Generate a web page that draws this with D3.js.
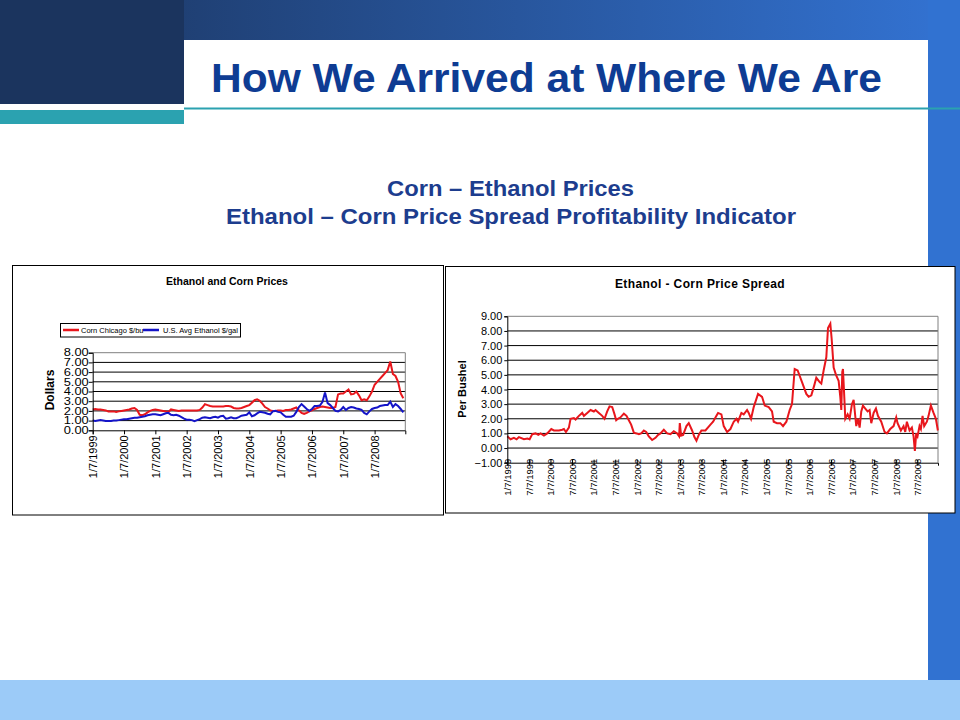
<!DOCTYPE html>
<html lang="en">
<head>
<meta charset="UTF-8">
<title>How We Arrived at Where We Are</title>
<script src="https://cdn.jsdelivr.net/npm/d3@7"></script>
<style>
    body { margin: 0; background: #fff; }
    svg { display: block; font-family: Arial, "Liberation Sans", sans-serif; }
</style>
</head>
<body>
<script>
// Monthly values, Jan 1999 .. Dec 2008
const cornPrices = [
    2.15, 2.2, 2.15, 2.15, 2.1, 2.05, 1.95, 1.95, 1.95, 1.9, 1.95, 2.0,
    2.05, 2.1, 2.15, 2.25, 2.3, 2.1, 1.6, 1.55, 1.65, 1.85, 2.0, 2.1,
    2.15, 2.1, 2.05, 2.0, 1.95, 1.9, 2.15, 2.1, 2.05, 2.0, 2.05, 2.05,
    2.05, 2.05, 2.05, 2.05, 2.05, 2.1, 2.35, 2.7, 2.6, 2.5, 2.45, 2.45,
    2.45, 2.45, 2.45, 2.5, 2.5, 2.45, 2.3, 2.25, 2.25, 2.3, 2.4, 2.5,
    2.6, 2.85, 3.1, 3.2, 3.05, 2.75, 2.4, 2.25, 2.05, 2.0, 2.0, 2.05,
    2.05, 2.0, 2.1, 2.1, 2.15, 2.25, 2.35, 2.05, 1.8, 1.7, 1.8, 1.95,
    2.05, 2.2, 2.3, 2.4, 2.45, 2.4, 2.35, 2.3, 2.3, 2.4, 3.7, 3.8,
    3.8, 4.0, 4.2, 3.7, 3.75, 4.0, 3.6, 3.1, 3.2, 3.1, 3.5, 4.0,
    4.7, 5.0, 5.3, 5.6, 5.9, 6.2, 7.1, 5.8, 5.6, 5.0, 3.8, 3.3
];
const ethanolPrices = [
    1.0, 0.95, 1.0, 1.05, 1.0, 0.95, 0.95, 0.95, 1.0, 1.0, 1.05, 1.1,
    1.15, 1.15, 1.2, 1.25, 1.3, 1.3, 1.35, 1.4, 1.45, 1.55, 1.6, 1.65,
    1.65, 1.6, 1.55, 1.65, 1.75, 1.8, 1.6, 1.55, 1.6, 1.5, 1.35, 1.2,
    1.1, 1.1, 1.05, 0.95, 1.05, 1.15, 1.3, 1.35, 1.3, 1.25, 1.35, 1.4,
    1.3, 1.45, 1.5, 1.2, 1.25, 1.35, 1.25, 1.25, 1.35, 1.5, 1.55, 1.6,
    1.85, 1.45, 1.55, 1.75, 1.9, 1.85, 1.8, 1.7, 1.65, 1.95, 2.0, 1.9,
    1.85, 1.6, 1.4, 1.4, 1.4, 1.5, 1.9, 2.4, 2.7, 2.45, 2.2, 2.0,
    2.2, 2.5, 2.5, 2.55, 2.9, 3.9, 2.8, 2.6, 2.3, 2.0, 1.95, 2.1,
    2.4, 2.1, 2.3, 2.4, 2.35, 2.25, 2.2, 2.1, 1.8, 1.65, 1.95, 2.2,
    2.3, 2.35, 2.5, 2.55, 2.6, 2.6, 2.95, 2.4, 2.7, 2.5, 2.2, 1.85
];

// Spread series: years since 1/7/1999 and $ per bushel
const spreadYears = [
    0, 0.077, 0.154, 0.216, 0.27, 0.386, 0.463, 0.517, 0.579, 0.656, 0.718, 0.772, 0.849, 0.926,
    1.019, 1.08, 1.196, 1.273, 1.312, 1.358, 1.427, 1.466, 1.543, 1.582, 1.659, 1.736, 1.775, 1.852, 1.929,
    2.006, 2.045, 2.122, 2.199, 2.253, 2.315, 2.369, 2.431, 2.485, 2.523, 2.562, 2.623, 2.701, 2.762, 2.816, 2.870, 2.932,
    2.994, 3.048, 3.102, 3.164, 3.218, 3.279, 3.356, 3.434, 3.495, 3.549, 3.627, 3.704, 3.781, 3.858, 3.935, 3.981,
    3.997, 4.028, 4.074, 4.151, 4.205, 4.282, 4.336, 4.383, 4.437, 4.498, 4.591, 4.707, 4.769, 4.846, 4.884, 4.961,
    5.015, 5.093, 5.170, 5.247, 5.309, 5.347, 5.424, 5.478, 5.556, 5.594, 5.648, 5.710, 5.810, 5.903, 5.965,
    6.057, 6.134, 6.173, 6.250, 6.327, 6.389, 6.466, 6.543, 6.597, 6.659, 6.728, 6.829, 6.929, 6.983,
    7.045, 7.114, 7.160, 7.238, 7.276, 7.330, 7.392, 7.431, 7.485, 7.515, 7.562, 7.616, 7.677, 7.716, 7.739,
    7.762, 7.778, 7.832, 7.886, 7.932, 7.986, 8.025, 8.086, 8.125, 8.164, 8.202, 8.241, 8.295, 8.349, 8.395,
    8.434, 8.488, 8.542, 8.588, 8.665, 8.742, 8.796, 8.873, 8.951, 9.012, 9.043, 9.120, 9.182, 9.221, 9.259,
    9.321, 9.375, 9.414, 9.444, 9.475, 9.506, 9.552, 9.583, 9.622, 9.660, 9.722, 9.761, 9.815, 9.877, 9.931, 9.977
];
const spreadValues = [
    0.8, 0.6, 0.7, 0.6, 0.75, 0.6, 0.65, 0.6, 0.95, 1.0, 0.9, 1.0, 0.85, 1.0,
    1.3, 1.2, 1.2, 1.25, 1.3, 1.1, 1.4, 2.0, 2.05, 1.95, 2.2, 2.4, 2.2, 2.4, 2.6,
    2.5, 2.6, 2.4, 2.2, 2.0, 2.5, 2.85, 2.8, 2.3, 1.9, 2.0, 2.1, 2.35, 2.2, 1.9, 1.6, 1.05,
    1.0, 0.95, 1.0, 1.2, 1.1, 0.8, 0.55, 0.7, 0.9, 1.0, 1.25, 1.0, 0.95, 1.15, 1.0, 0.8,
    1.7, 0.85, 0.9, 1.5, 1.7, 1.2, 0.75, 0.5, 0.9, 1.2, 1.2, 1.6, 1.8, 2.2, 2.4, 2.3,
    1.5, 1.1, 1.3, 1.8, 2.0, 1.8, 2.4, 2.3, 2.6, 2.4, 2.0, 2.8, 3.7, 3.5, 2.9,
    2.8, 2.5, 1.8, 1.7, 1.7, 1.5, 1.8, 2.6, 3.0, 5.4, 5.3, 4.5, 3.7, 3.5,
    3.6, 4.3, 4.8, 4.5, 4.4, 5.3, 6.2, 8.2, 8.5, 7.5, 5.5, 5.0, 4.6, 3.5, 2.6,
    5.2, 5.4, 2.0, 2.3, 2.0, 3.0, 3.3, 1.5, 2.0, 1.4, 2.5, 2.9, 2.7, 2.5, 2.6,
    1.7, 2.4, 2.7, 2.2, 1.8, 1.1, 1.0, 1.3, 1.5, 2.1, 1.7, 1.2, 1.5, 1.1, 1.8,
    1.2, 1.4, 0.8, -0.2, 1.0, 0.8, 1.5, 1.3, 2.2, 1.5, 1.8, 2.2, 2.9, 2.4, 2.0, 1.2
];

const leftTickLabels = ["1/7/1999", "1/7/2000", "1/7/2001", "1/7/2002", "1/7/2003",
    "1/7/2004", "1/7/2005", "1/7/2006", "1/7/2007", "1/7/2008"];
const rightTickLabels = ["1/7/1999", "7/7/1999", "1/7/2000", "7/7/2000", "1/7/2001", "7/7/2001",
    "1/7/2002", "7/7/2002", "1/7/2003", "7/7/2003", "1/7/2004", "7/7/2004", "1/7/2005", "7/7/2005",
    "1/7/2006", "7/7/2006", "1/7/2007", "7/7/2007", "1/7/2008", "7/7/2008"];
const leftYTicks = [0, 1, 2, 3, 4, 5, 6, 7, 8];
const rightYTicks = [-1, 0, 1, 2, 3, 4, 5, 6, 7, 8, 9];
const legendNames = ["Corn Chicago $/bu", "U.S. Avg Ethanol $/gal"];

const svg = d3.select("body").append("svg")
    .attr("width", 960).attr("height", 720);

// ---- slide background ----
const grad = svg.append("defs").append("linearGradient")
    .attr("id", "topGrad").attr("x1", "0%").attr("x2", "100%");
grad.append("stop").attr("offset", "0%").attr("stop-color", "#1b345e");
grad.append("stop").attr("offset", "100%").attr("stop-color", "#3373d3");

svg.append("rect").attr("x", 0).attr("y", 0).attr("width", 960).attr("height", 40).attr("fill", "url(#topGrad)");
svg.append("rect").attr("x", 0).attr("y", 0).attr("width", 184).attr("height", 104).attr("fill", "#1b345e");
svg.append("rect").attr("x", 928).attr("y", 0).attr("width", 32).attr("height", 704).attr("fill", "#3172d1");
svg.append("rect").attr("x", 0).attr("y", 680).attr("width", 960).attr("height", 40).attr("fill", "#9ccbf8");
svg.append("rect").attr("x", 0).attr("y", 110).attr("width", 184).attr("height", 14).attr("fill", "#2ba2b0");
svg.append("rect").attr("x", 184).attr("y", 107.5).attr("width", 776).attr("height", 2).attr("fill", "#2ba2b0");

svg.append("text")
    .attr("x", 211).attr("y", 92)
    .attr("textLength", 671).attr("lengthAdjust", "spacingAndGlyphs")
    .style("font-size", "41px").style("font-weight", "bold").attr("fill", "#0e3c93")
    .text("How We Arrived at Where We Are");

svg.append("text")
    .attr("x", 387).attr("y", 196)
    .attr("textLength", 247).attr("lengthAdjust", "spacingAndGlyphs")
    .style("font-size", "22px").style("font-weight", "bold").attr("fill", "#1d3d8e")
    .text("Corn – Ethanol Prices");
svg.append("text")
    .attr("x", 226).attr("y", 224)
    .attr("textLength", 570).attr("lengthAdjust", "spacingAndGlyphs")
    .style("font-size", "22px").style("font-weight", "bold").attr("fill", "#1d3d8e")
    .text("Ethanol – Corn Price Spread Profitability Indicator");

// ---- left chart: Ethanol and Corn Prices ----
svg.append("rect").attr("x", 12.5).attr("y", 265.5).attr("width", 431).attr("height", 249.5)
    .attr("fill", "#fff").attr("stroke", "#000");

svg.append("text").attr("x", 227).attr("y", 285).attr("text-anchor", "middle")
    .style("font-size", "10.5px").style("font-weight", "bold").text("Ethanol and Corn Prices");

const xL = d3.scaleLinear().domain([0, 9.98]).range([92.7, 405.3]);
const yL = d3.scaleLinear().domain([0, 8]).range([430.3, 352.7]);

const gL = svg.append("g");
gL.selectAll("line.grid").data(leftYTicks.slice(1)).enter().append("line")
    .attr("x1", xL(0)).attr("x2", xL(9.98))
    .attr("y1", d => yL(d)).attr("y2", d => yL(d))
    .attr("stroke", d => d === 8 ? "#808080" : "#000").attr("stroke-width", 1);
gL.append("line").attr("x1", xL(9.98)).attr("x2", xL(9.98)).attr("y1", yL(0)).attr("y2", yL(8))
    .attr("stroke", "#808080");

const lineL = d3.line().x((d, i) => xL(i / 12)).y(d => yL(d));
gL.append("path").datum(cornPrices).attr("d", lineL)
    .attr("fill", "none").attr("stroke", "#e8161c").attr("stroke-width", 2);
gL.append("path").datum(ethanolPrices).attr("d", lineL)
    .attr("fill", "none").attr("stroke", "#1414c8").attr("stroke-width", 2);

const yAxisL = gL.append("g").attr("transform", `translate(${xL(0)},0)`)
    .call(d3.axisLeft(yL).tickValues(leftYTicks).tickSize(4).tickPadding(0).tickFormat(d3.format(".2f")));
const xAxisL = gL.append("g").attr("transform", `translate(0,${yL(0)})`)
    .call(d3.axisBottom(xL).tickValues(d3.range(leftTickLabels.length)).tickSize(4)
        .tickFormat((d, i) => leftTickLabels[i]));
[yAxisL, xAxisL].forEach(a => {
    a.attr("font-family", null).attr("font-size", null);
    a.selectAll("path, line").attr("stroke", "#000");
    a.selectAll("text").attr("fill", "#000");
});
yAxisL.selectAll("text").style("font-size", "10px").attr("textLength", 25).attr("lengthAdjust", "spacingAndGlyphs");
xAxisL.selectAll("text").style("font-size", "11px")
    .attr("transform", "rotate(-90)").attr("x", -5).attr("y", 0).attr("dy", "0.35em")
    .style("text-anchor", "end");

svg.append("text").attr("transform", "translate(54,390) rotate(-90)").attr("text-anchor", "middle")
    .style("font-size", "12px").style("font-weight", "bold").text("Dollars");

// legend
const leg = svg.append("g");
leg.append("rect").attr("x", 60.5).attr("y", 323.5).attr("width", 180).attr("height", 13.5)
    .attr("fill", "#fff").attr("stroke", "#000");
[[63, "#e8161c", 81], [143, "#1414c8", 163]].forEach((p, i) => {
    leg.append("line").attr("x1", p[0]).attr("x2", p[0] + 16).attr("y1", 330).attr("y2", 330)
        .attr("stroke", p[1]).attr("stroke-width", 2.5);
    leg.append("text").attr("x", p[2]).attr("y", 333).style("font-size", "7.5px").text(legendNames[i]);
});

// ---- right chart: Ethanol - Corn Price Spread ----
svg.append("rect").attr("x", 445.5).attr("y", 266.5).attr("width", 509.5).attr("height", 246.5)
    .attr("fill", "#fff").attr("stroke", "#000");

svg.append("text").attr("x", 700).attr("y", 288).attr("text-anchor", "middle")
    .style("font-size", "12px").style("font-weight", "bold").style("letter-spacing", "0.4px")
    .text("Ethanol - Corn Price Spread");

const xR = d3.scaleLinear().domain([0, 9.98]).range([507.3, 938]);
const yR = d3.scaleLinear().domain([-1, 9]).range([462.7, 316.3]);

const gR = svg.append("g");
gR.selectAll("line.grid").data(rightYTicks.slice(1)).enter().append("line")
    .attr("x1", xR(0)).attr("x2", xR(9.98))
    .attr("y1", d => yR(d)).attr("y2", d => yR(d))
    .attr("stroke", d => d === 9 ? "#808080" : "#000").attr("stroke-width", 1);
gR.append("line").attr("x1", xR(9.98)).attr("x2", xR(9.98)).attr("y1", yR(-1)).attr("y2", yR(9))
    .attr("stroke", "#808080");

const lineR = d3.line().x((d, i) => xR(spreadYears[i])).y(d => yR(d));
gR.append("path").datum(spreadValues).attr("d", lineR)
    .attr("fill", "none").attr("stroke", "#e8161c").attr("stroke-width", 2);

const yAxisR = gR.append("g").attr("transform", `translate(${xR(0)},0)`)
    .call(d3.axisLeft(yR).tickValues(rightYTicks).tickSize(3).tickPadding(2).tickFormat(d3.format(".2f")));
const xAxisR = gR.append("g").attr("transform", `translate(0,${yR(-1)})`)
    .call(d3.axisBottom(xR).tickValues(d3.range(rightTickLabels.length).map(i => i / 2)).tickSize(3)
        .tickFormat((d, i) => rightTickLabels[i]));
[yAxisR, xAxisR].forEach(a => {
    a.attr("font-family", null).attr("font-size", null);
    a.selectAll("path, line").attr("stroke", "#000");
    a.selectAll("text").attr("fill", "#000");
});
yAxisR.selectAll("text").style("font-size", "11px");
xAxisR.selectAll(".tick line").attr("y1", -3);
xAxisR.selectAll("text").style("font-size", "9.5px")
    .attr("transform", "rotate(-90)").attr("x", 4).attr("y", 0).attr("dy", "0.35em")
    .style("text-anchor", "end");

svg.append("text").attr("transform", "translate(466,389) rotate(-90)").attr("text-anchor", "middle")
    .style("font-size", "11px").style("font-weight", "bold").text("Per Bushel");
</script>
</body>
</html>
